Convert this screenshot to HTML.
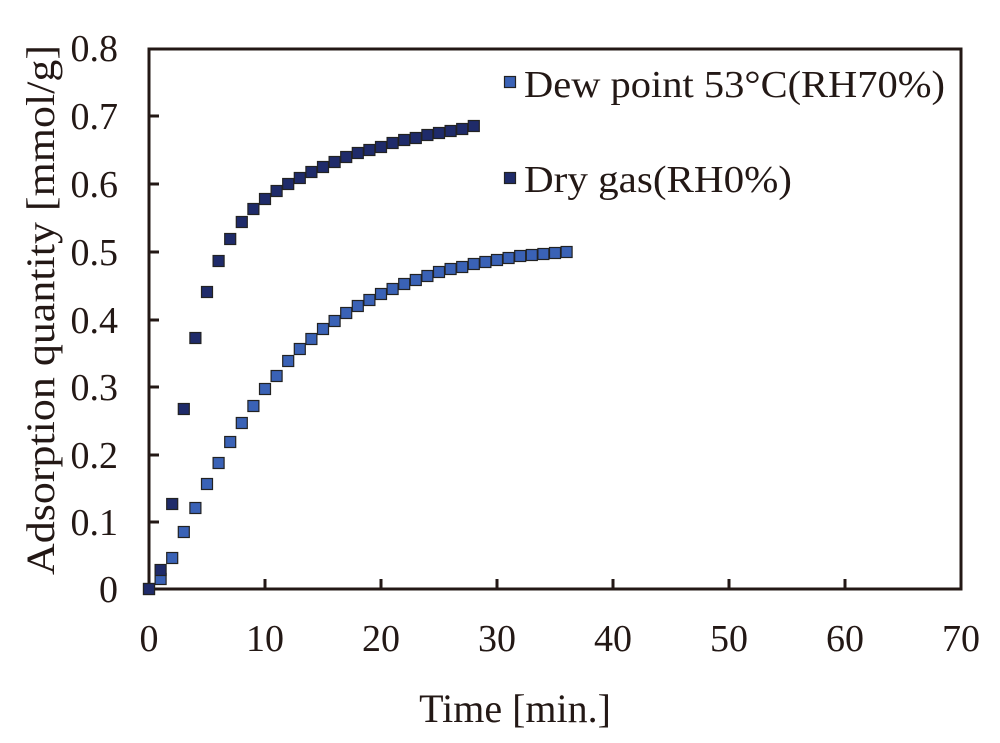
<!DOCTYPE html>
<html><head><meta charset="utf-8"><style>body{margin:0;background:#fff}</style></head><body>
<svg width="1000" height="738" xmlns="http://www.w3.org/2000/svg" font-family="Liberation Serif, serif" fill="#231815">
<rect width="1000" height="738" fill="#fff"/>
<g stroke="#231815" stroke-width="3" fill="none">
<rect x="149" y="49" width="812" height="540"/>
<path d="M149 522h10M149 455h10M149 387h10M149 320h10M149 252h10M149 184h10M149 116h10"/>
<path d="M265 589v-10M381 589v-10M497 589v-10M613 589v-10M729 589v-10M845 589v-10"/>
</g>
<g font-size="38" text-anchor="end">
<text x="118" y="602">0</text><text x="118" y="535">0.1</text><text x="118" y="468">0.2</text><text x="118" y="400">0.3</text><text x="118" y="333">0.4</text><text x="118" y="265">0.5</text><text x="118" y="197">0.6</text><text x="118" y="129">0.7</text><text x="118" y="61">0.8</text>
</g>
<g font-size="38" text-anchor="middle">
<text x="149" y="651">0</text><text x="265" y="651">10</text><text x="381" y="651">20</text><text x="497" y="651">30</text><text x="613" y="651">40</text><text x="729" y="651">50</text><text x="845" y="651">60</text><text x="961" y="651">70</text>
<text x="515" y="722" font-size="40">Time [min.]</text>
<text transform="translate(54,310) rotate(-90)" font-size="40" textLength="530" lengthAdjust="spacingAndGlyphs">Adsorption quantity [mmol/g]</text>
</g>
<g font-size="38"><text x="524" y="97" textLength="421" lengthAdjust="spacingAndGlyphs">Dew point 53°C(RH70%)</text><text x="524" y="192" textLength="268" lengthAdjust="spacingAndGlyphs">Dry gas(RH0%)</text></g>
<g id="m" stroke="#222" stroke-width="1.2"></g>
<script>
var g=document.getElementById('m'),ns='http://www.w3.org/2000/svg';
function sq(x,y,c){var r=document.createElementNS(ns,'rect');r.setAttribute('x',x-5.5);r.setAttribute('y',y-5.5);r.setAttribute('width',11);r.setAttribute('height',11);r.setAttribute('fill',c);g.appendChild(r);}
sq(510,82,'#3a62b6');sq(510,178,'#1f2b6a');
var dew=[589,579,558,532,508,484,463,442,423,406,389,376,361,349,339,329,321,313,306,300,294,289,284,280,276,272,269,267,264,262,260,258,256,255,254,253,252];
var dry=[589,570,504,409,338,292,261,239,222,209,199,191,184,178,172,167,162,157,153,150,147,143,140,138,135,133,131,129,126];
dew.forEach(function(y,i){sq(149+11.6*i,y,'#3a62b6')});
dry.forEach(function(y,i){sq(149+11.6*i,y,'#1f2b6a')});
</script>
</svg>
</body></html>
